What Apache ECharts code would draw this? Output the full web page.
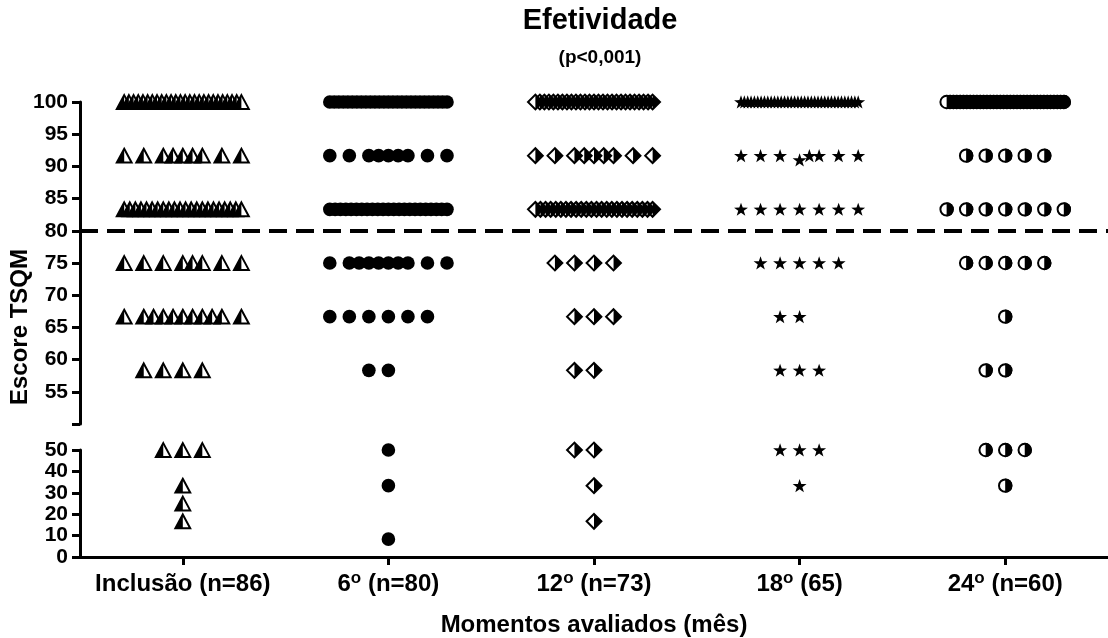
<!DOCTYPE html>
<html>
<head>
<meta charset="utf-8">
<script src="https://cdn.jsdelivr.net/npm/echarts@6/dist/echarts.min.js"></script>
<style>
  html, body { margin: 0; padding: 0; background: #fff; }
  #chart { width: 1108px; height: 638px; }
</style>
</head>
<body>
<div id="chart"></div>
<script>
// Momentos de avaliação e escores TSQM (domínio Efetividade)
const GRUPOS = ['Inclusão (n=86)', '6º (n=80)', '12º (n=73)', '18º (65)', '24º (n=60)'];
const ESCORES = [100, 91.67, 91, 83.33, 75, 66.67, 58.33, 50, 33.33, 25, 16.67, 8.33];

// número de pacientes em cada escore, por momento (mesma ordem de ESCORES)
const N_INCLUSAO = [26, 9, 0, 22, 8, 11, 4, 3, 1, 1, 1, 0];
const N_6M       = [27, 9, 0, 23, 10, 6, 2, 1, 1, 0, 0, 1];
const N_12M      = [27, 9, 0, 24, 4, 3, 2, 2, 1, 0, 1, 0];
const N_18M      = [36, 7, 1, 7, 5, 2, 3, 3, 1, 0, 0, 0];
const N_24M      = [36, 5, 0, 7, 5, 1, 2, 3, 1, 0, 0, 0];

// rótulos dos eixos Y (eixo interrompido em 50)
const TICKS_SUP = [55, 60, 65, 70, 75, 80, 85, 90, 95, 100];
const TICKS_INF = [0, 10, 20, 30, 40, 50];
const LIMIAR = 80;

const CONTAGENS = [N_INCLUSAO, N_6M, N_12M, N_18M, N_24M];
const FONT = '"Liberation Sans", Arial, sans-serif';

// largura de cada "vaga" horizontal, em fração da largura da categoria
const VAGA = 0.095;

// posições horizontais (em vagas) para n pontos na mesma linha
function vagas(n) {
  if (n <= 7) {
    const ini = n % 2 ? -(n - 1) / 2 : -n / 2;
    return Array.from({ length: n }, (_, i) => ini + i);
  }
  if (n <= 13) {
    const base = [-3, -2, -1, 0, 1, 2, 3];
    const extra = [0.5, -0.5, -1.5, 1.5, 2.5, -2.5].slice(0, n - 7);
    return base.concat(extra);
  }
  return Array.from({ length: n }, (_, i) => -3 + 6 * i / (n - 1));
}

// ordem de desenho: a metade preta de cada símbolo fica por cima do vizinho
const ORDEM = [1, 1, -1, 1, -1];

// monta os pontos [grupo, escore, vaga, símbolo]
const pontos = [];
CONTAGENS.forEach((cont, g) => {
  // agrupa escores muito próximos numa mesma linha
  const linhas = [];
  ESCORES.forEach((v, i) => {
    if (!cont[i]) return;
    const ult = linhas[linhas.length - 1];
    if (ult && Math.abs(ult.ref - v) < 1) {
      for (let k = 0; k < cont[i]; k++) ult.valores.push(v);
    } else {
      linhas.push({ ref: v, valores: Array(cont[i]).fill(v) });
    }
  });
  linhas.forEach(l => {
    const vals = l.valores.slice().sort((a, b) => a - b);
    const pos = vagas(vals.length)
      .map((s, i) => ({ s, i }))
      .sort((a, b) => Math.abs(a.s) - Math.abs(b.s) || a.i - b.i)
      .map(o => o.s);
    const linha = vals.map((v, k) => [g, v, pos[k], g]);
    linha.sort((a, b) => ORDEM[g] * (a[2] - b[2]));
    linha.forEach(p => pontos.push(p));
  });
});

const dadosSup = pontos.filter(p => p[1] > 50);
const dadosInf = pontos.filter(p => p[1] <= 50);

// símbolos de cada momento
function simbolo(tipo, cx, cy) {
  const preto = { fill: '#000' };
  const contorno = { fill: '#fff', stroke: '#000', lineWidth: 2 };
  if (tipo === 0) { // triângulo, metade esquerda preenchida
    const h = 6.9, w = 7.4;
    return [
      { type: 'polygon', shape: { points: [[cx, cy - h], [cx + w, cy + h], [cx - w, cy + h]] }, style: contorno },
      { type: 'polygon', shape: { points: [[cx, cy - h], [cx, cy + h], [cx - w, cy + h]] }, style: preto }
    ];
  }
  if (tipo === 1) { // círculo cheio
    return [{ type: 'circle', shape: { cx, cy, r: 6.8 }, style: preto }];
  }
  if (tipo === 2) { // losango, metade direita preenchida
    const r = 7.4;
    return [
      { type: 'polygon', shape: { points: [[cx, cy - r], [cx + r, cy], [cx, cy + r], [cx - r, cy]] }, style: contorno },
      { type: 'polygon', shape: { points: [[cx, cy - r], [cx + r, cy], [cx, cy + r]] }, style: preto }
    ];
  }
  if (tipo === 3) { // estrela
    const pts = [];
    for (let k = 0; k < 10; k++) {
      const r = k % 2 ? 2.9 : 7.3;
      const a = -Math.PI / 2 + k * Math.PI / 5;
      pts.push([cx + r * Math.cos(a), cy + 0.6 + r * Math.sin(a)]);
    }
    return [{ type: 'polygon', shape: { points: pts }, style: preto }];
  }
  // círculo, metade direita preenchida
  return [
    { type: 'circle', shape: { cx, cy, r: 6.2 }, style: contorno },
    { type: 'sector', shape: { cx, cy, r0: 0, r: 7.2, startAngle: -Math.PI / 2, endAngle: Math.PI / 2, clockwise: true }, style: preto }
  ];
}

function renderPonto(params, api) {
  const p = api.coord([api.value(0), api.value(1)]);
  const largura = api.size([1, 0])[0];
  const cx = p[0] + api.value(2) * VAGA * largura;
  return { type: 'group', children: simbolo(api.value(3), cx, p[1]) };
}

const rotuloY = { color: '#000', fontFamily: FONT, fontWeight: 'bold', fontSize: 21, margin: 12 };
const linhaEixo = { show: true, lineStyle: { color: '#000', width: 3 } };
const tickEixo = { show: true, length: 8, lineStyle: { color: '#000', width: 3 } };

const option = {
  backgroundColor: '#fff',
  animation: false,
  title: {
    text: 'Efetividade',
    subtext: '(p<0,001)',
    left: 595,
    top: 1,
    textAlign: 'center',
    itemGap: 13,
    textStyle: { fontFamily: FONT, fontWeight: 'bold', fontSize: 29, color: '#000' },
    subtextStyle: { fontFamily: FONT, fontWeight: 'bold', fontSize: 19, color: '#000' }
  },
  graphic: [{
    type: 'text',
    x: 20, y: 327,
    rotation: Math.PI / 2,
    style: {
      text: 'Escore TSQM',
      font: 'bold 24px ' + FONT,
      fill: '#000',
      align: 'center',
      verticalAlign: 'middle'
    }
  }],
  grid: [
    { left: 80, right: 0, top: 102, height: 322 },
    { left: 80, right: 0, top: 450, height: 108 }
  ],
  xAxis: [
    {
      type: 'category', gridIndex: 0, data: GRUPOS,
      show: false
    },
    {
      type: 'category', gridIndex: 1, data: GRUPOS,
      axisLine: linhaEixo,
      axisTick: Object.assign({ alignWithLabel: true, interval: 0 }, tickEixo),
      axisLabel: {
        interval: 0,
        color: '#000', fontFamily: FONT, fontWeight: 'bold', fontSize: 24,
        lineHeight: 28, margin: 13,
        formatter: v => v.replace('º', '{s|o}'),
        rich: {
          s: { fontFamily: FONT, fontWeight: 'bold', fontSize: 17, lineHeight: 13, verticalAlign: 'top', color: '#000' }
        }
      },
      name: 'Momentos avaliados (mês)',
      nameLocation: 'middle',
      nameGap: 56,
      nameTextStyle: { color: '#000', fontFamily: FONT, fontWeight: 'bold', fontSize: 24 }
    }
  ],
  yAxis: [
    {
      type: 'value', gridIndex: 0,
      min: TICKS_SUP[0] - (TICKS_SUP[1] - TICKS_SUP[0]),
      max: TICKS_SUP[TICKS_SUP.length - 1],
      interval: TICKS_SUP[1] - TICKS_SUP[0],
      splitLine: { show: false },
      axisLine: linhaEixo,
      axisTick: tickEixo,
      axisLabel: Object.assign({}, rotuloY, {
        formatter: v => (TICKS_SUP.includes(v) ? String(v) : '')
      })
    },
    {
      type: 'value', gridIndex: 1,
      min: TICKS_INF[0],
      max: TICKS_INF[TICKS_INF.length - 1],
      interval: TICKS_INF[1] - TICKS_INF[0],
      splitLine: { show: false },
      axisLine: linhaEixo,
      axisTick: tickEixo,
      axisLabel: Object.assign({}, rotuloY, {
        formatter: v => (TICKS_INF.includes(v) ? String(v) : '')
      })
    }
  ],
  series: [
    {
      type: 'line', xAxisIndex: 0, yAxisIndex: 0, data: [],
      markLine: {
        silent: true, symbol: 'none', label: { show: false },
        lineStyle: { color: '#000', width: 4, type: [18, 9] },
        data: [{ yAxis: LIMIAR }]
      }
    },
    {
      type: 'custom', xAxisIndex: 0, yAxisIndex: 0,
      clip: false, renderItem: renderPonto,
      encode: { x: 0, y: 1 }, data: dadosSup
    },
    {
      type: 'custom', xAxisIndex: 1, yAxisIndex: 1,
      clip: false, renderItem: renderPonto,
      encode: { x: 0, y: 1 }, data: dadosInf
    }
  ]
};

const chart = echarts.init(document.getElementById('chart'), null, { renderer: 'canvas' });
chart.setOption(option);
</script>
</body>
</html>
